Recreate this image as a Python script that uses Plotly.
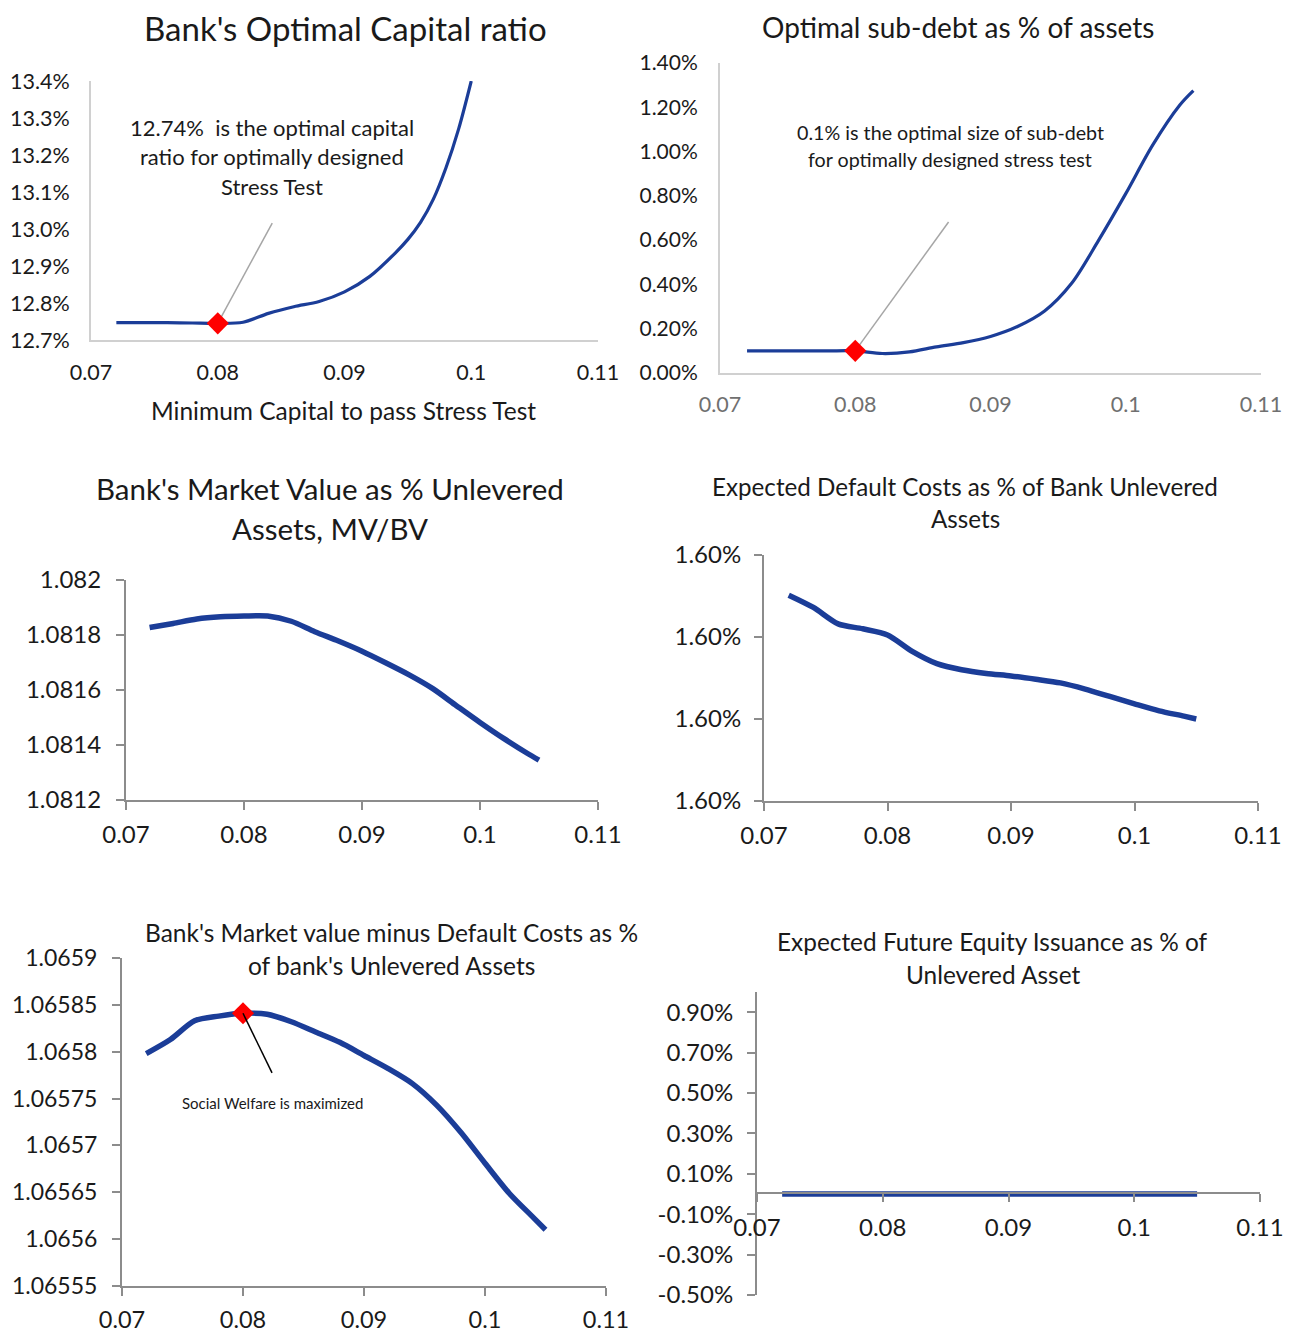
import plotly.graph_objects as go

# ---------------- data ----------------
x_grid = [0.072, 0.074, 0.076, 0.078, 0.080, 0.082, 0.084, 0.086, 0.088,
          0.090, 0.092, 0.094, 0.096, 0.098, 0.100, 0.102, 0.104, 0.105]

# Panel 1: Bank's optimal capital ratio (ends at 0.10 where it leaves the axis)
cap_x = [0.072, 0.074, 0.076, 0.078, 0.080, 0.082, 0.084, 0.086, 0.088,
         0.090, 0.092, 0.094, 0.095, 0.096, 0.097, 0.098, 0.099, 0.100]
cap_ratio = [0.12747, 0.12747, 0.12747, 0.12746, 0.12745, 0.12748, 0.12772,
             0.12790, 0.12804, 0.12830, 0.12872, 0.12935, 0.12972, 0.13018,
             0.13080, 0.13165, 0.13270, 0.13400]

# Panel 2: optimal sub-debt as % of assets
sub_debt = [0.00100, 0.00100, 0.00100, 0.00100, 0.00100, 0.00088, 0.00095,
            0.00118, 0.00137, 0.00165, 0.00210, 0.00280, 0.00405, 0.00600,
            0.00810, 0.01030, 0.01210, 0.01275]

# Panel 3: market value / unlevered assets
mv_bv = [1.081827, 1.081842, 1.081858, 1.081866, 1.081869, 1.081869,
         1.081850, 1.081812, 1.081778, 1.081741, 1.081699, 1.081655,
         1.081605, 1.081543, 1.081482, 1.081424, 1.081370, 1.081345]

# Panel 4: expected default costs
default_costs = [0.0160202, 0.0160172, 0.0160132, 0.0160120, 0.0160105,
                 0.0160065, 0.0160035, 0.0160020, 0.0160011, 0.0160005,
                 0.0159997, 0.0159988, 0.0159973, 0.0159955, 0.0159937,
                 0.0159920, 0.0159907, 0.0159900]

# Panel 5: market value minus default costs
mv_minus_dc = [1.065798, 1.065813, 1.065833, 1.065838, 1.065841, 1.065840,
               1.065832, 1.065821, 1.065810, 1.065796, 1.065782, 1.065766,
               1.065743, 1.065714, 1.065681, 1.065649, 1.065623, 1.065610]

# Panel 6: expected future equity issuance
equity_issuance = [0.0] * len(x_grid)

# optimum markers
opt_x = 0.08
opt_cap = 0.12745
opt_sub = 0.00100
opt_welfare = 1.065841

# tick labels
x_ticks = [0.07, 0.08, 0.09, 0.10, 0.11]
x_ticktext = ["0.07", "0.08", "0.09", "0.1", "0.11"]
p3_ticks = [1.0812, 1.0814, 1.0816, 1.0818, 1.0820]
p3_ticktext = ["1.0812", "1.0814", "1.0816", "1.0818", "1.082"]
p4_ticks = [0.01597, 0.01599, 0.01601, 0.01603]
p5_ticks = [1.06555, 1.06560, 1.06565, 1.06570, 1.06575, 1.06580, 1.06585, 1.06590]
p5_ticktext = ["1.06555", "1.0656", "1.06565", "1.0657", "1.06575", "1.0658",
               "1.06585", "1.0659"]
p6_ticks = [-0.005, -0.003, -0.001, 0.001, 0.003, 0.005, 0.007, 0.009]
p6_ticktext = ["-0.50%", "-0.30%", "-0.10%", "0.10%", "0.30%", "0.50%", "0.70%", "0.90%"]

titles = {
    1: ["Bank's Optimal Capital ratio"],
    2: ["Optimal sub-debt as % of assets"],
    3: ["Bank's Market Value as % Unlevered", "Assets, MV/BV"],
    4: ["Expected Default Costs as % of Bank Unlevered", "Assets"],
    5: ["Bank's Market value minus Default Costs as %", "of bank's Unlevered Assets"],
    6: ["Expected Future Equity Issuance as % of", "Unlevered Asset"],
}
note1 = ["12.74%  is the optimal capital", "ratio for optimally designed", "Stress Test"]
note2 = ["0.1% is the optimal size of sub-debt", "for optimally designed stress test"]
note5 = ["Social Welfare is maximized"]
x_title1 = "Minimum Capital to pass Stress Test"

# ---------------- layout helpers ----------------
OFF = 8  # page body margin
W, H = 1292 - OFF, 1342 - OFF
FONT = "Lato"
BLUE = "#1b3d98"
TXT = "#1a1a1a"


def fx(p):
    return (p - OFF) / W


def fy(p):
    return 1 - (p - OFF) / H


fig = go.Figure()

line_thin = dict(color=BLUE, width=3.2, shape="spline", smoothing=0.9)
line_thick = dict(color=BLUE, width=5.5, shape="spline", smoothing=0.8)

fig.add_trace(go.Scatter(x=cap_x, y=cap_ratio, mode="lines", line=line_thin,
                         xaxis="x", yaxis="y", cliponaxis=True))
fig.add_trace(go.Scatter(x=[opt_x], y=[opt_cap], mode="markers",
                         marker=dict(symbol="diamond", size=17, color="#ff0000"),
                         xaxis="x", yaxis="y", cliponaxis=False))

fig.add_trace(go.Scatter(x=x_grid, y=sub_debt, mode="lines", line=line_thin,
                         xaxis="x2", yaxis="y2"))
fig.add_trace(go.Scatter(x=[opt_x], y=[opt_sub], mode="markers",
                         marker=dict(symbol="diamond", size=17, color="#ff0000"),
                         xaxis="x2", yaxis="y2", cliponaxis=False))

fig.add_trace(go.Scatter(x=x_grid, y=mv_bv, mode="lines", line=line_thick,
                         xaxis="x3", yaxis="y3"))

fig.add_trace(go.Scatter(x=x_grid, y=default_costs, mode="lines", line=line_thick,
                         xaxis="x4", yaxis="y4"))

fig.add_trace(go.Scatter(x=x_grid, y=mv_minus_dc, mode="lines", line=line_thick,
                         xaxis="x5", yaxis="y5"))
fig.add_trace(go.Scatter(x=[opt_x], y=[opt_welfare], mode="markers",
                         marker=dict(symbol="diamond", size=17, color="#ff0000"),
                         xaxis="x5", yaxis="y5", cliponaxis=False))

fig.add_trace(go.Scatter(x=x_grid, y=equity_issuance, mode="lines",
                         line=dict(color=BLUE, width=5.5),
                         xaxis="x6", yaxis="y6", cliponaxis=False))

LIGHT = "#d0d0d0"
GRAY = "#8c8c8c"


def xax(dom, anchor, size, color=TXT, ticks="outside", lc=GRAY, standoff=6, **kw):
    d = dict(domain=[fx(dom[0]), fx(dom[1])], anchor=anchor, range=[0.07, 0.11],
             tickvals=x_ticks, ticktext=x_ticktext, showgrid=False, zeroline=False,
             showline=True, linecolor=lc, linewidth=2, ticks=ticks, ticklen=8,
             tickcolor=lc, tickwidth=2, ticklabelstandoff=standoff, automargin=False,
             tickfont=dict(family=FONT, size=size, color=color), fixedrange=True)
    d.update(kw)
    return d


def yax(dom, anchor, rng, size, ticks="outside", lc=GRAY, standoff=6, **kw):
    d = dict(domain=[fy(dom[1]), fy(dom[0])], anchor=anchor, range=rng,
             showgrid=False, zeroline=False, showline=True, linecolor=lc,
             linewidth=2, ticks=ticks, ticklen=8, tickcolor=lc, tickwidth=2,
             ticklabelstandoff=standoff, automargin=False,
             tickfont=dict(family=FONT, size=size, color=TXT), fixedrange=True)
    d.update(kw)
    return d


layout = dict(
    width=W, height=H, autosize=False, showlegend=False,
    margin=dict(l=0, r=0, t=0, b=0, pad=0, autoexpand=False),
    paper_bgcolor="white", plot_bgcolor="white",
    font=dict(family=FONT, color=TXT),
)

# Panel 1
layout["xaxis"] = xax([91, 598], "y", 21.5, ticks="", lc=LIGHT, standoff=12)
layout["yaxis"] = yax([81, 340], "x", [0.127, 0.134], 21.5, ticks="", lc=LIGHT,
                      standoff=15, tickformat=".1%", dtick=0.001, tick0=0.127)
# Panel 2
layout["xaxis2"] = xax([720, 1261], "y2", 21.5, color="#707070", ticks="", lc=LIGHT,
                       standoff=11)
layout["yaxis2"] = yax([63, 373], "x2", [0, 0.014], 21, ticks="", lc=LIGHT,
                       standoff=16, tickformat=".2%", dtick=0.002, tick0=0)
# Panel 3
layout["xaxis3"] = xax([126, 598], "y3", 24, standoff=4)
layout["yaxis3"] = yax([580, 800], "x3", [1.0812, 1.0820], 24, standoff=10,
                       tickvals=p3_ticks, ticktext=p3_ticktext)
# Panel 4
layout["xaxis4"] = xax([764, 1258], "y4", 24, standoff=4)
layout["yaxis4"] = yax([555, 801], "x4", [0.01597, 0.01603], 24, standoff=8,
                       tickvals=p4_ticks, tickformat=".2%")
# Panel 5
layout["xaxis5"] = xax([122, 606], "y5", 23.5, standoff=4)
layout["yaxis5"] = yax([958, 1286], "x5", [1.06555, 1.06590], 23, standoff=10,
                       tickvals=p5_ticks, ticktext=p5_ticktext)
# Panel 6
layout["xaxis6"] = xax([757, 1260], "free", 24, standoff=5, position=fy(1193))
layout["yaxis6"] = yax([992, 1295], "x6", [-0.005, 0.010], 24, standoff=9,
                       tickvals=p6_ticks, ticktext=p6_ticktext)

annotations = []


def text_lines(lines, cx, ys, size, color=TXT):
    for t, yy in zip(lines, ys):
        annotations.append(dict(text=t, x=fx(cx), y=fy(yy), xref="paper", yref="paper",
                                xanchor="center", yanchor="middle", showarrow=False,
                                font=dict(family=FONT, size=size, color=color)))


text_lines(titles[1], 346, [28], 33)
text_lines(titles[2], 958, [27], 28)
text_lines(titles[3], 330, [489, 528], 29.5)
text_lines(titles[4], 965, [486, 518], 24.2)
text_lines(titles[5], 392, [932, 965], 24.5)
text_lines(titles[6], 993, [941, 974], 24.4)
text_lines([x_title1], 344, [410], 24.5)
text_lines(note1, 272, [127, 156, 186], 22)
text_lines(note2, 950, [133, 160], 19.7)
text_lines(note5, 272, [1103], 15)
layout["annotations"] = annotations

layout["shapes"] = [
    dict(type="line", xref="x", yref="y", x0=opt_x, y0=opt_cap, x1=0.0843, y1=0.13016,
         line=dict(color="#a6a6a6", width=1.5), layer="below"),
    dict(type="line", xref="x2", yref="y2", x0=opt_x, y0=opt_sub, x1=0.0869, y1=0.00682,
         line=dict(color="#a6a6a6", width=1.5), layer="below"),
    dict(type="line", xref="x5", yref="y5", x0=opt_x, y0=opt_welfare, x1=0.0824,
         y1=1.0657774, line=dict(color="#000000", width=1.5)),
]

fig.update_layout(**layout)
fig.write_html("out.html", config={"displayModeBar": False})
